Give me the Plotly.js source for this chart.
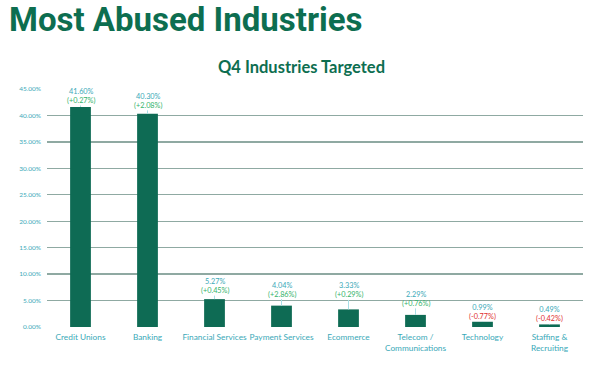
<!DOCTYPE html>
<html>
<head>
<meta charset="utf-8">
<script src="https://cdn.plot.ly/plotly-3.0.1.min.js"></script>
<style>html,body{margin:0;padding:0;background:#fff}#chart{width:600px;height:368px}</style>
</head>
<body>
<div id="chart"></div>
<script>
const categories = ["Credit Unions", "Banking", "Financial Services", "Payment Services", "Ecommerce", "Telecom /<br>Communications", "Technology", "Staffing &<br>Recruiting"];
const shares = [41.60, 40.30, 5.27, 4.04, 3.33, 2.29, 0.99, 0.49];
const changes = [0.27, 2.08, 0.45, 2.86, 0.29, 0.76, -0.77, -0.42];
const labelOffsets = [-11, -13, -13, -16, -19, -16, -10, -10];

const green = "#0e6b54";
const teal = "#3aa9b8";

const annotations = categories.map((c, i) => {
  const chg = changes[i];
  const chgTxt = (chg >= 0 ? "(+" : "(") + chg.toFixed(2) + "%)";
  const chgCol = chg >= 0 ? "#34b36a" : "#e0302e";
  return {
    x: c, y: shares[i], xref: "x", yref: "y",
    text: shares[i].toFixed(2) + "%<br><span style=\"color:" + chgCol + "\">" + chgTxt + "</span>",
    showarrow: true, arrowhead: 0, arrowwidth: 1, arrowcolor: "#a8dfe6",
    ax: 0, ay: labelOffsets[i], standoff: 0,
    font: {family: "Lato, sans-serif", size: 7.3, color: teal},
    borderpad: 0
  };
});

annotations.push({
  text: "<b>Most Abused Industries</b>", xref: "paper", yref: "paper",
  x: -0.075, y: 1.292, xanchor: "left", yanchor: "middle", showarrow: false,
  font: {family: "Roboto, sans-serif", size: 33, color: "#0d6e50"}
});
annotations.push({
  text: "<b>Q4 Industries Targeted</b>", xref: "paper", yref: "paper",
  x: 0.474, y: 1.092, xanchor: "center", yanchor: "middle", showarrow: false,
  font: {family: "Lato, sans-serif", size: 16.5, color: "#0d6e50"}
});

const data = [{
  type: "bar", x: categories, y: shares,
  marker: {color: green},
  width: 0.31,
  hoverinfo: "skip"
}];

const layout = {
  width: 600, height: 368,
  margin: {l: 47, r: 17, t: 89, b: 41},
  paper_bgcolor: "#fff", plot_bgcolor: "#fff",
  showlegend: false,
  xaxis: {
    type: "category", showgrid: false, zeroline: false, showline: false,
    ticks: "", ticklabelstandoff: 4,
    tickfont: {family: "Lato, sans-serif", size: 8.3, color: teal},
    fixedrange: true
  },
  yaxis: {
    range: [0, 45], dtick: 5, tick0: 0,
    showgrid: true, gridcolor: "#8fa9a2", gridwidth: 1.3,
    zeroline: false, showline: false,
    tickformat: ".2f", ticksuffix: "%",
    ticks: "", ticklen: 0, ticklabelstandoff: 5,
    tickfont: {family: "Lato, sans-serif", size: 6.5, color: teal},
    fixedrange: true
  },
  annotations: annotations
};

Plotly.newPlot("chart", data, layout, {displayModeBar: false, staticPlot: true});
</script>
</body>
</html>
